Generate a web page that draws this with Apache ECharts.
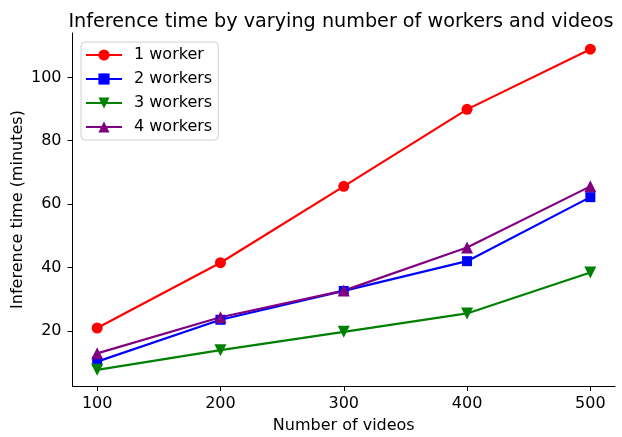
<!DOCTYPE html>
<html>
<head>
<meta charset="utf-8">
<script src="https://cdn.jsdelivr.net/npm/echarts@6/dist/echarts.min.js"></script>
<style>
  html, body { margin: 0; padding: 0; background: #fff; }
  #chart { width: 622px; height: 437px; }
</style>
</head>
<body>
<div id="chart"></div>
<script>
// Number of videos processed
const videos = [100, 200, 300, 400, 500];
// Inference time (minutes) per worker count
const oneWorker = [20.9, 41.5, 65.6, 89.9, 108.9];
const twoWorkers = [10.3, 23.5, 32.6, 42.0, 62.2];
const threeWorkers = [7.7, 13.9, 19.7, 25.5, 38.4];
const fourWorkers = [12.9, 24.3, 32.7, 46.3, 65.6];
// Tick labels
const xTicks = [100, 200, 300, 400, 500];
const yTicks = [20, 40, 60, 80, 100];

const FONT = 'DejaVu Sans';

function pairs(ys) {
  return videos.map((x, i) => [x, ys[i]]);
}

const seriesDefs = [
  { name: '1 worker', color: '#ff0000', symbol: 'circle', size: 11, data: oneWorker },
  { name: '2 workers', color: '#0000ff', symbol: 'rect', size: 10, data: twoWorkers },
  { name: '3 workers', color: '#008000', symbol: 'triangle', size: 12, rotate: 180, data: threeWorkers },
  { name: '4 workers', color: '#800080', symbol: 'triangle', size: 12, data: fourWorkers }
];

const chart = echarts.init(document.getElementById('chart'), null, { renderer: 'canvas' });

chart.setOption({
  animation: false,
  backgroundColor: '#ffffff',
  textStyle: { fontFamily: FONT },
  title: {
    text: 'Inference time by varying number of workers and videos',
    left: 336,
    top: 8,
    textAlign: 'center',
    textStyle: { fontFamily: FONT, fontSize: 19.2, fontWeight: 'normal', color: '#000' }
  },
  grid: {
    left: 72.5, right: 7, top: 33, bottom: 51,
    containLabel: false,
    outerBoundsMode: 'none'
  },
  legend: {
    orient: 'vertical',
    left: 81,
    top: 42,
    padding: [5, 6, 5, 4],
    itemWidth: 36,
    itemHeight: 14,
    itemGap: 8,
    borderColor: '#d0d0d0',
    borderWidth: 1,
    borderRadius: 4,
    backgroundColor: 'rgba(255,255,255,0.8)',
    textStyle: { fontFamily: FONT, fontSize: 16, color: '#000', padding: [0, 0, 0, 7] },
    data: seriesDefs.map(s => s.name)
  },
  xAxis: {
    type: 'value',
    min: 80,
    max: 520,
    name: 'Number of videos',
    nameLocation: 'middle',
    nameGap: 32,
    nameMoveOverlap: false,
    nameTextStyle: { fontFamily: FONT, fontSize: 16, color: '#000' },
    splitLine: { show: false },
    axisLine: { show: true, onZero: false, lineStyle: { color: '#000', width: 1 } },
    axisTick: { show: true, inside: false, length: 5, customValues: xTicks, lineStyle: { color: '#000' } },
    axisLabel: { customValues: xTicks, margin: 10, fontFamily: FONT, fontSize: 16, color: '#000' }
  },
  yAxis: {
    type: 'value',
    min: 2.6,
    max: 114,
    name: 'Inference time (minutes)',
    nameLocation: 'middle',
    nameGap: 47,
    nameMoveOverlap: false,
    nameTextStyle: { fontFamily: FONT, fontSize: 16, color: '#000' },
    splitLine: { show: false },
    axisLine: { show: true, onZero: false, lineStyle: { color: '#000', width: 1 } },
    axisTick: { show: true, inside: false, length: 5, customValues: yTicks, lineStyle: { color: '#000' } },
    axisLabel: { customValues: yTicks, margin: 11, fontFamily: FONT, fontSize: 16, color: '#000' }
  },
  series: seriesDefs.map(s => ({
    name: s.name,
    type: 'line',
    data: pairs(s.data),
    symbol: s.symbol,
    symbolSize: s.size,
    symbolRotate: s.rotate || 0,
    showAllSymbol: true,
    lineStyle: { color: s.color, width: 2.2 },
    itemStyle: { color: s.color, borderWidth: 0 },
    emphasis: { disabled: true }
  }))
});
</script>
</body>
</html>
